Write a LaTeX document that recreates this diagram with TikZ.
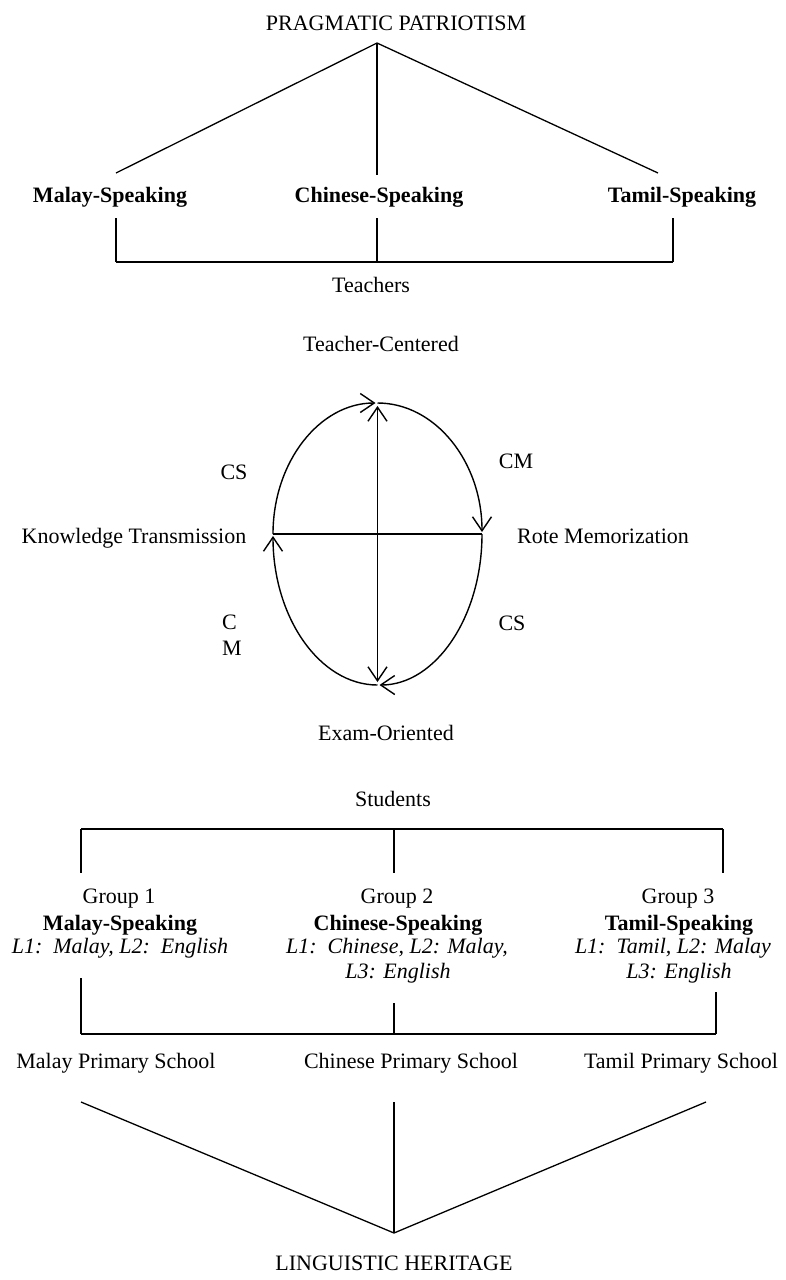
\documentclass[tikz,border=0pt]{standalone}
\usepackage{fontspec}
\setmainfont{Liberation Serif}
\usetikzlibrary{arrows.meta}
\begin{document}
\begin{tikzpicture}[x=1pt,y=-1pt,
  lbl/.style={anchor=base, inner sep=0pt, font=\fontsize{22}{25}\selectfont},
  boldlbl/.style={lbl, font=\fontsize{22}{25}\selectfont\bfseries},
  itallbl/.style={lbl, font=\fontsize{22}{25}\selectfont\itshape},
  link/.style={line width=1.3pt},
  bar/.style={line width=1.8pt},
  vtip/.tip={Straight Barb[length=14pt,width=19pt]},
  cyc/.style={line width=1.4pt, -vtip, shorten >=2pt},
]
\useasboundingbox (0,0) rectangle (786,1280);

% ---------- teachers ----------
\node[lbl] (pp) at (396,30) {PRAGMATIC PATRIOTISM};
\coordinate (apexT) at (377,43);
\coordinate (tL) at (116,173);
\coordinate (tM) at (377,175);
\coordinate (tR) at (658,173);
\draw[link] (tL) -- (apexT) -- (tR);
\draw[link] (apexT) -- (tM);

\node[boldlbl] (tms) at (110,202) {Malay-Speaking};
\node[boldlbl] (tcs) at (379,202) {Chinese-Speaking};
\node[boldlbl] (tts) at (682,202) {Tamil-Speaking};

\coordinate (tbL1) at (116,218); \coordinate (tbL2) at (116,262);
\coordinate (tbM1) at (377,218); \coordinate (tbM2) at (377,262);
\coordinate (tbR1) at (673,218); \coordinate (tbR2) at (673,262);
\draw[link] (tbL1) -- (tbL2);
\draw[link] (tbM1) -- (tbM2);
\draw[link] (tbR1) -- (tbR2);
\draw[bar] (tbL2) -- (tbR2);

\node[lbl] (teachers) at (371,292) {Teachers};

% ---------- teaching cycle ----------
\node[lbl] (tc) at (381,351) {Teacher-Centered};
\node[lbl] (eo) at (386,740) {Exam-Oriented};
\node[lbl] (kt) at (134,543) {Knowledge Transmission};
\node[lbl] (rm) at (603,543) {Rote Memorization};
\node[lbl] (csA) at (234,479) {CS};
\node[lbl] (cmA) at (516,468) {CM};
\node[lbl] (csB) at (512,630) {CS};
\node[lbl, anchor=base west] (cmB1) at (222,629) {C};
\node[lbl, anchor=base west] (cmB2) at (222,655) {M};

\coordinate (eL) at (273,534);
\coordinate (eR) at (482,534);
\coordinate (eT) at (377.5,403);
\coordinate (eB) at (377.5,685);

\draw[link] (eL) -- (eR);
\draw[line width=1.4pt, vtip-vtip, shorten <=3pt, shorten >=3pt] (eT) -- (eB);

\draw[cyc] (eL) arc[start angle=180, end angle=90, x radius=104.5pt, y radius=131pt];
\draw[cyc] (eT) arc[start angle=90, end angle=0, x radius=104.5pt, y radius=131pt];
\draw[cyc] (eR) arc[start angle=0, end angle=-90, x radius=104.5pt, y radius=151pt];
\draw[cyc] (eB) arc[start angle=-90, end angle=-180, x radius=104.5pt, y radius=151pt];

% ---------- students ----------
\node[lbl] (students) at (393,806) {Students};
\coordinate (sbL1) at (81,829);  \coordinate (sbL2) at (81,873);
\coordinate (sbM1) at (394,829); \coordinate (sbM2) at (394,873);
\coordinate (sbR1) at (723,829); \coordinate (sbR2) at (723,873);
\draw[bar] (sbL1) -- (sbR1);
\draw[link] (sbL1) -- (sbL2);
\draw[link] (sbM1) -- (sbM2);
\draw[link] (sbR1) -- (sbR2);

\node[lbl] (g1) at (119,903) {Group 1};
\node[boldlbl] (g1b) at (120,930) {Malay-Speaking};
\node[itallbl] (g1i) at (120,953) {L1:\ \ Malay, L2:\ \ English};

\node[lbl] (g2) at (397,903) {Group 2};
\node[boldlbl] (g2b) at (398,930) {Chinese-Speaking};
\node[itallbl] (g2i) at (397,953) {L1:\ \ Chinese, L2: Malay,};
\node[itallbl] (g2j) at (398,978) {L3: English};

\node[lbl] (g3) at (678,903) {Group 3};
\node[boldlbl] (g3b) at (679,930) {Tamil-Speaking};
\node[itallbl] (g3i) at (673,953) {L1:\ \ Tamil, L2: Malay};
\node[itallbl] (g3j) at (679,978) {L3: English};

\coordinate (lbL1) at (81,978);   \coordinate (lbL2) at (81,1034);
\coordinate (lbM1) at (394,1003); \coordinate (lbM2) at (394,1034);
\coordinate (lbR1) at (716,992);  \coordinate (lbR2) at (716,1034);
\draw[link] (lbL1) -- (lbL2);
\draw[link] (lbM1) -- (lbM2);
\draw[link] (lbR1) -- (lbR2);
\draw[bar] (lbL2) -- (lbR2);

% ---------- schools ----------
\node[lbl] (ms) at (116,1068) {Malay Primary School};
\node[lbl] (cs) at (411,1068) {Chinese Primary School};
\node[lbl] (ts) at (681,1068) {Tamil Primary School};

\coordinate (vL) at (81,1102);
\coordinate (vM) at (394,1102);
\coordinate (vR) at (706,1102);
\coordinate (apexB) at (394,1233);
\draw[link] (vL) -- (apexB) -- (vR);
\draw[link] (vM) -- (apexB);

\node[lbl] (lh) at (394,1270) {LINGUISTIC HERITAGE};
\end{tikzpicture}
\end{document}
